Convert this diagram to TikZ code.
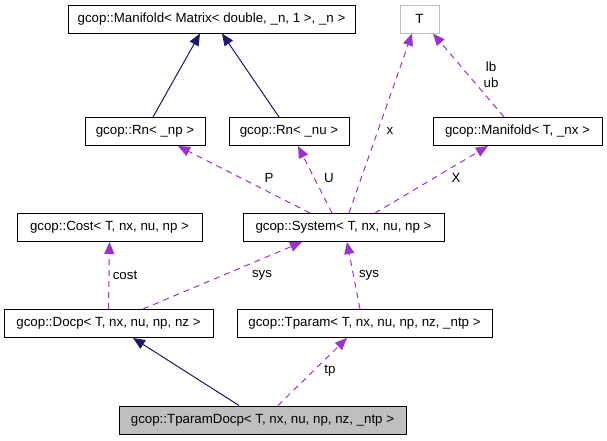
\documentclass[tikz,border=0pt]{standalone}
\usepackage{fontspec}
\setmainfont{Liberation Sans}
\usepackage{xcolor}
\usepackage{tikz}
\usetikzlibrary{arrows.meta}
\definecolor{inherit}{HTML}{191970}
\definecolor{usage}{HTML}{9A32CD}
\definecolor{shade}{HTML}{BFBFBF}
\tikzset{
    base/.style={draw=black, line width=1pt, font=\fontsize{13.3}{16}\selectfont, align=center, inner sep=0pt, minimum height=28pt},
    block/.style={base, rectangle, fill=white},
    blockshaded/.style={base, rectangle, fill=shade},
    blockplain/.style={base, rectangle, draw=shade, fill=white},
    line/.style={draw=inherit, line width=1pt, -{Triangle[length=12pt, width=10pt]}},
    dashed-line/.style={draw=usage, line width=1pt, dash pattern=on 6pt off 5pt, -{Triangle[length=12pt, width=10pt]}},
    edgelabel/.style={font=\fontsize{13.3}{16}\selectfont, align=center, inner sep=1pt}
}
\begin{document}
\begin{tikzpicture}[x=1pt, y=-1pt]
    \fill [white] (0,0) rectangle (607,440);
    \useasboundingbox (0,0) rectangle (607,440);

    \node [block, minimum width=287pt] (ManifoldN) at (211.5,19) {gcop::Manifold< Matrix< double, \_n, 1 >, \_n >};
    \node [blockplain, minimum width=39pt] (TypeT) at (419.5,19) {T};
    \node [block, minimum width=120pt] (RnNp) at (145,131.5) {gcop::Rn< \_np >};
    \node [block, minimum width=120pt] (RnNu) at (289,131.5) {gcop::Rn< \_nu >};
    \node [block, minimum width=169pt] (ManifoldTnx) at (517.5,131.5) {gcop::Manifold< T, \_nx >};
    \node [block, minimum width=185pt] (Cost) at (109.5,227.5) {gcop::Cost< T, nx, nu, np >};
    \node [block, minimum width=201pt] (System) at (343.5,227.5) {gcop::System< T, nx, nu, np >};
    \node [block, minimum width=209pt] (Docp) at (108.5,323.5) {gcop::Docp< T, nx, nu, np, nz >};
    \node [block, minimum width=255pt] (Tparam) at (364.5,323.5) {gcop::Tparam< T, nx, nu, np, nz, \_ntp >};
    \node [blockshaded, minimum width=287pt] (TparamDocp) at (262.5,420) {gcop::TparamDocp< T, nx, nu, np, nz, \_ntp >};

    % inheritance
    \path [line] ([xshift=8pt]RnNp.north) -- ([xshift=-11.5pt]ManifoldN.south);
    \path [line] ([xshift=-10pt]RnNu.north) -- ([xshift=10.5pt]ManifoldN.south);
    \path [line] ([xshift=-23.5pt]TparamDocp.north) -- ([xshift=24.5pt]Docp.south);

    % usage
    \path [dashed-line] ([xshift=-33.5pt]System.north) -- ([xshift=33pt]RnNp.south) node [edgelabel] at (269,178) {P};
    \path [dashed-line] ([xshift=-11.5pt]System.north) -- ([xshift=9pt]RnNu.south) node [edgelabel] at (329,178) {U};
    \path [dashed-line] ([xshift=5.5pt]System.north) -- ([xshift=-7.5pt]TypeT.south) node [edgelabel] at (390,131) {x};
    \path [dashed-line] ([xshift=31.5pt]System.north) -- ([xshift=-29.5pt]ManifoldTnx.south) node [edgelabel] at (456,178) {X};
    \path [dashed-line] ([xshift=-13.5pt]ManifoldTnx.north) -- ([xshift=13.5pt]TypeT.south) node [edgelabel] at (491,75) {lb\\ub};
    \path [dashed-line] (Docp.north) -- (Cost.south) node [edgelabel] at (125,275) {cost};
    \path [dashed-line] ([xshift=34.5pt]Docp.north) -- ([xshift=-41.5pt]System.south) node [edgelabel] at (262,275) {sys};
    \path [dashed-line] ([xshift=-4.5pt]Tparam.north) -- ([xshift=3.5pt]System.south) node [edgelabel] at (369,275) {sys};
    \path [dashed-line] ([xshift=15.5pt]TparamDocp.north) -- ([xshift=-17.5pt]Tparam.south) node [edgelabel] at (330,371) {tp};
\end{tikzpicture}
\end{document}
